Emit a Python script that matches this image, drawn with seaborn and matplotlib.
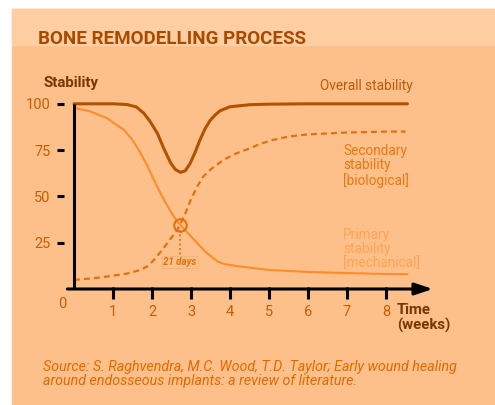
import matplotlib
matplotlib.use("Agg")
import matplotlib.pyplot as plt
from matplotlib.patches import Rectangle
import pandas as pd
import seaborn as sns

# ---- data (weeks vs. stability %) ----
overall_weeks = [0, 0.5, 1.0, 1.36, 1.6, 1.79, 1.95, 2.14, 2.3, 2.48, 2.6, 2.73, 2.85,
                 2.97, 3.1, 3.23, 3.36, 3.49, 3.62, 3.75, 4.0, 4.5, 5, 6, 7, 8, 8.55]
overall_stability = [100, 100, 100, 99.6, 98.3, 94.9, 90.5, 84, 76, 68, 64.5, 63, 63.8,
                     67.5, 73.5, 80.5, 86.5, 91, 94, 96.3, 98.4, 99.5, 99.8, 100, 100, 100, 100]

primary_weeks = [0, 0.4, 0.85, 1.28, 1.5, 1.71, 1.88, 2.05, 2.18, 2.31, 2.48, 2.65, 2.72,
                 2.95, 3.15, 3.4, 3.67, 3.85, 4.2, 5, 6, 7, 8, 8.55]
primary_stability = [97.8, 96, 92.2, 85.9, 80.5, 73.3, 66.5, 58.9, 53.3, 48, 41.8, 36.3, 34.8,
                     29.5, 25, 19.5, 15, 13.5, 12.3, 10.3, 9.2, 8.6, 8.1, 8]

secondary_weeks = [0, 0.5, 0.94, 1.35, 1.71, 1.9, 2.05, 2.22, 2.39, 2.52, 2.65, 2.72, 2.88,
                   2.97, 3.15, 3.31, 3.53, 3.83, 4.17, 4.51, 4.77, 5.1, 5.5, 6, 7, 8, 8.5]
secondary_stability = [4.9, 5.8, 7, 8.3, 10.3, 12.5, 15.7, 20, 24.7, 28.3, 32, 34.8, 42,
                       47, 55, 60.6, 65, 69.7, 73.3, 76, 78.3, 80.5, 82.3, 83.5, 84.5, 85, 85]

crossing_week = 2.72
crossing_value = 34.8
crossing_label = "21 days"

y_ticks = [25, 50, 75, 100]
x_ticks = [1, 2, 3, 4, 5, 6, 7, 8]

# ---- style ----
sns.set_theme(style="white")
plt.rcParams["font.family"] = ["Roboto", "DejaVu Sans"]

PANEL = "#FEC08B"
HEADER = "#FFCEA3"
C_OVERALL = "#B25200"
C_OVERALL_TXT = "#BC5A05"
C_PRIMARY = "#FF8C2A"
C_PRIMARY_TXT = "#FFA350"
C_SECONDARY = "#E2700F"
C_SECONDARY_TXT = "#E87810"
C_TICK = "#C65E00"
C_DARK = "#7A3600"
C_TITLE = "#A84B00"
C_SOURCE = "#E06A00"

W, H = 495, 405
fig = plt.figure(figsize=(W / 100, H / 100), dpi=100, facecolor="white")

# background panels
fig.patches.append(Rectangle((12 / W, 0), 1 - 12 / W, (H - 9) / H,
                             transform=fig.transFigure, color=PANEL, zorder=-10))
fig.patches.append(Rectangle((12 / W, (H - 45) / H), 1 - 12 / W, 36 / H,
                             transform=fig.transFigure, color=HEADER, zorder=-9))

# axes: x=0 at px 74, 39 px/week; y=0 at px 289, 1.852 px/unit
xmin, xmax = -0.25, 9.3
ymin, ymax = -2, 108
x0px, xs = 74, 39
y0px, ys = 289, 1.852
left = (x0px + xmin * xs) / W
width = (xmax - xmin) * xs / W
bottom = (H - (y0px - ymin * ys)) / H
height = (ymax - ymin) * ys / H
ax = fig.add_axes([left, bottom, width, height])
ax.set_facecolor("none")
ax.set_xlim(xmin, xmax)
ax.set_ylim(ymin, ymax)
for s in ax.spines.values():
    s.set_visible(False)

df_o = pd.DataFrame({"week": overall_weeks, "value": overall_stability})
df_p = pd.DataFrame({"week": primary_weeks, "value": primary_stability})
df_s = pd.DataFrame({"week": secondary_weeks, "value": secondary_stability})

sns.lineplot(data=df_p, x="week", y="value", ax=ax, color=C_PRIMARY, lw=1.5,
             sort=False, estimator=None, zorder=3)
sns.lineplot(data=df_s, x="week", y="value", ax=ax, color=C_SECONDARY, lw=1.6,
             sort=False, estimator=None, zorder=3, dashes=False, linestyle=(0, (2.7, 1.8)))
sns.lineplot(data=df_o, x="week", y="value", ax=ax, color=C_OVERALL, lw=2.2,
             sort=False, estimator=None, zorder=4)

# axis lines
ax.plot([0, 0], [0, 100], color="black", lw=2.2, solid_capstyle="butt", zorder=5,
        clip_on=False)
ax.annotate("", xy=(9.2, 0), xytext=(-0.17, 0),
            arrowprops=dict(arrowstyle="-|>,head_length=0.9,head_width=0.3",
                            color="black", lw=2.2, shrinkA=0, shrinkB=0),
            zorder=5, annotation_clip=False)

ax.set_yticks(y_ticks)
ax.set_yticklabels([str(v) for v in y_ticks])
ax.set_xticks(x_ticks)
ax.set_xticklabels([str(v) for v in x_ticks])
ax.tick_params(axis="y", direction="out", length=5, width=2.2, color="black",
               labelsize=10.5, labelcolor=C_TICK, pad=5, left=True)
ax.tick_params(axis="x", direction="inout", length=8, width=2.2, color="black",
               labelsize=10.5, labelcolor=C_TICK, pad=5, bottom=True)
ax.text(-0.31, -4.2, "0", ha="center", va="top", fontsize=10.5, color=C_TICK)
ax.set_xlabel("")
ax.set_ylabel("")

# crossing marker
ax.plot([crossing_week], [crossing_value], marker="o", ms=9, mfc="none",
        mec=C_SECONDARY, mew=1.5, zorder=6)
ax.plot([crossing_week, crossing_week], [crossing_value - 3, 18.5], color=C_SECONDARY,
        lw=1.3, linestyle=(0, (1, 1.5)), zorder=6)
ax.text(crossing_week, 14.6, crossing_label, ha="center", va="center", fontsize=7,
        fontweight="bold", fontstyle="italic", color=C_SECONDARY, zorder=6,
        bbox=dict(boxstyle="square,pad=0.1", fc="none", ec="#F7B27A", lw=0.6))

# series labels
ax.text(6.3, 109.5, "Overall stability", ha="left", va="center", fontsize=9.8,
        color=C_OVERALL_TXT)
ax.text(6.9, 66.5, "Secondary\nstability\n[biological]", ha="left", va="center",
        fontsize=9.8, color=C_SECONDARY_TXT, linespacing=1.02)
ax.text(6.9, 21.5, "Primary\nstability\n[mechanical]", ha="left", va="center",
        fontsize=9.8, color=C_PRIMARY_TXT, linespacing=1.02)

# axis titles
fig.text(43 / W, 1 - 83.5 / H, "Stability", ha="left", va="center", fontsize=10.8,
         fontweight="bold", color=C_DARK)
fig.text(397 / W, 1 - 318 / H, "Time\n(weeks)", ha="left", va="center", fontsize=10.8,
         fontweight="bold", color=C_DARK, linespacing=1.0)

# title
fig.text(38 / W, 1 - 44.5 / H, "BONE REMODELLING PROCESS", ha="left", va="baseline",
         fontsize=13.5, fontweight="bold", color=C_TITLE)

# source
fig.text(43 / W, 1 - 373.5 / H,
         "Source: S. Raghvendra, M.C. Wood, T.D. Taylor; Early wound healing\n"
         "around endosseous implants: a review of literature.",
         ha="left", va="center", fontsize=10.3, fontstyle="italic", color=C_SOURCE,
         linespacing=1.0)

fig.savefig("out.png", dpi=100, facecolor="white")
